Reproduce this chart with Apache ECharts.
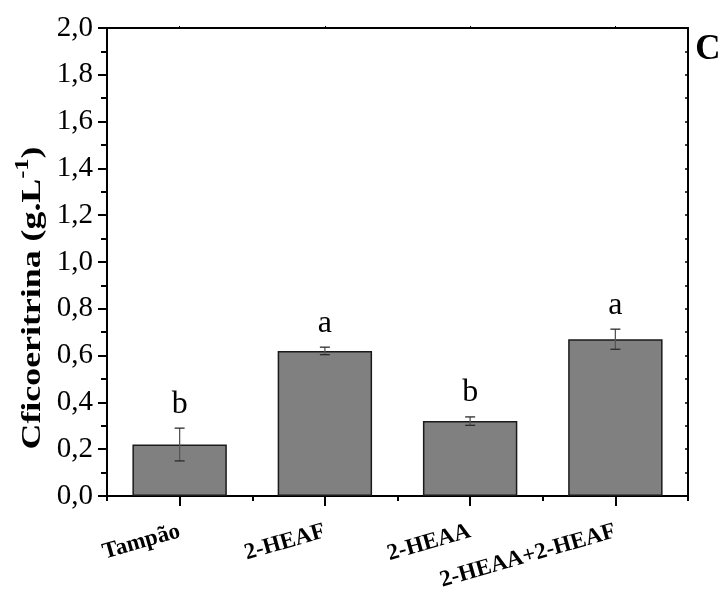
<!DOCTYPE html>
<html>
<head>
<meta charset="utf-8">
<script src="https://cdn.jsdelivr.net/npm/echarts@6/dist/echarts.min.js"></script>
<style>
  html, body { margin: 0; padding: 0; background: #ffffff; }
  #chart { width: 722px; height: 592px; }
</style>
</head>
<body>
<div id="chart"></div>
<script>
// Treatments and measured C-phycoerythrin concentration (g/L)
const categories = ['Tampão', '2-HEAF', '2-HEAA', '2-HEAA+2-HEAF'];
const means = [0.22, 0.62, 0.32, 0.67];
const errors = [0.07, 0.016, 0.018, 0.043];
const groupLetters = ['b', 'a', 'b', 'a'];
const yTickLabels = ['0,0', '0,2', '0,4', '0,6', '0,8', '1,0', '1,2', '1,4', '1,6', '1,8', '2,0'];

const SERIF = '"Liberation Serif", "Times New Roman", serif';
const INK = '#000000';

const chart = echarts.init(document.getElementById('chart'), null, { renderer: 'canvas' });

const yLabelFormatter = function (v) {
  const idx = Math.round(v / 0.2);
  return yTickLabels[idx] !== undefined ? yTickLabels[idx] : '';
};

const option = {
  backgroundColor: '#ffffff',
  animation: false,
  grid: { left: 107, right: 34, top: 28, bottom: 96, containLabel: false, outerBoundsMode: 'none' },
  xAxis: [
    {
      type: 'category',
      position: 'bottom',
      data: categories,
      axisLine: { show: true, lineStyle: { color: INK, width: 2 } },
      axisTick: { show: true, alignWithLabel: true, length: 10, lineStyle: { color: INK, width: 2 } },
      axisLabel: {
        interval: 0,
        rotate: 16,
        margin: 35,
        color: INK,
        fontFamily: SERIF,
        fontWeight: 'bold',
        fontSize: 23
      },
      splitLine: { show: false }
    },
    {
      // short ticks on the category boundaries
      type: 'category',
      position: 'bottom',
      data: categories,
      axisLine: { show: false },
      axisTick: { show: true, length: 5, lineStyle: { color: INK, width: 2 } },
      axisLabel: { show: false },
      splitLine: { show: false }
    },
    {
      type: 'category',
      position: 'top',
      data: categories,
      axisLine: { show: true, lineStyle: { color: INK, width: 2 } },
      axisTick: { show: true, alignWithLabel: true, length: 2, lineStyle: { color: INK, width: 1 } },
      axisLabel: { show: false },
      splitLine: { show: false }
    }
  ],
  yAxis: [
    {
      type: 'value',
      position: 'left',
      min: 0,
      max: 2,
      interval: 0.2,
      axisLine: { show: true, lineStyle: { color: INK, width: 2 } },
      axisTick: { show: true, length: 9, lineStyle: { color: INK, width: 2 } },
      minorTick: { show: true, splitNumber: 2, length: 6, lineStyle: { color: INK, width: 2 } },
      axisLabel: {
        margin: 14,
        color: INK,
        fontFamily: SERIF,
        fontSize: 29,
        formatter: yLabelFormatter
      },
      splitLine: { show: false },
      minorSplitLine: { show: false }
    },
    {
      type: 'value',
      position: 'right',
      min: 0,
      max: 2,
      interval: 0.2,
      axisLine: { show: true, lineStyle: { color: INK, width: 2 } },
      axisTick: { show: true, inside: true, length: 3, lineStyle: { color: INK, width: 1.5 } },
      minorTick: { show: true, splitNumber: 2, length: 3, lineStyle: { color: INK, width: 1.5 } },
      axisLabel: { show: false },
      splitLine: { show: false }
    }
  ],
  series: [
    {
      type: 'bar',
      xAxisIndex: 0,
      yAxisIndex: 0,
      data: means,
      barWidth: '65%',
      itemStyle: { color: '#808080', borderColor: '#1a1a1a', borderWidth: 1.5 },
      z: 2
    },
    {
      type: 'custom',
      xAxisIndex: 0,
      yAxisIndex: 0,
      z: 5,
      encode: { x: 0, y: 1 },
      data: categories.map(function (c, i) { return [i, means[i], errors[i]]; }),
      renderItem: function (params, api) {
        const i = api.value(0);
        const m = api.value(1);
        const e = api.value(2);
        const top = api.coord([i, m + e]);
        const bot = api.coord([i, m - e]);
        const hw = 5;
        const stem = { stroke: '#555555', lineWidth: 1.3 };
        const cap = { stroke: '#2b2b2b', lineWidth: 1.3 };
        return {
          type: 'group',
          children: [
            { type: 'line', shape: { x1: top[0], y1: top[1], x2: bot[0], y2: bot[1] }, style: stem },
            { type: 'line', shape: { x1: top[0] - hw, y1: top[1], x2: top[0] + hw, y2: top[1] }, style: cap },
            { type: 'line', shape: { x1: bot[0] - hw, y1: bot[1], x2: bot[0] + hw, y2: bot[1] }, style: cap },
            {
              type: 'text',
              x: top[0],
              y: top[1] - 8,
              style: {
                text: groupLetters[params.dataIndex],
                fill: INK,
                font: '32px ' + SERIF,
                align: 'center',
                verticalAlign: 'bottom'
              }
            }
          ]
        };
      }
    }
  ],
  graphic: [
    {
      type: 'text',
      x: 33,
      y: 298,
      rotation: Math.PI / 2,
      scaleX: 1.28,
      style: {
        text: '{m|Cficoeritrina (g.L}{s|-1}{m|)}',
        align: 'center',
        verticalAlign: 'middle',
        fill: INK,
        rich: {
          m: { fontFamily: SERIF, fontWeight: 'bold', fontSize: 28, lineHeight: 38, fill: INK },
          s: { fontFamily: SERIF, fontWeight: 'bold', fontSize: 19, lineHeight: 8, verticalAlign: 'top', fill: INK }
        }
      }
    },
    {
      type: 'text',
      x: 708,
      y: 50,
      style: {
        text: 'C',
        fill: INK,
        font: 'bold 35px ' + SERIF,
        align: 'center',
        verticalAlign: 'middle'
      }
    }
  ]
};

chart.setOption(option);
</script>
</body>
</html>
